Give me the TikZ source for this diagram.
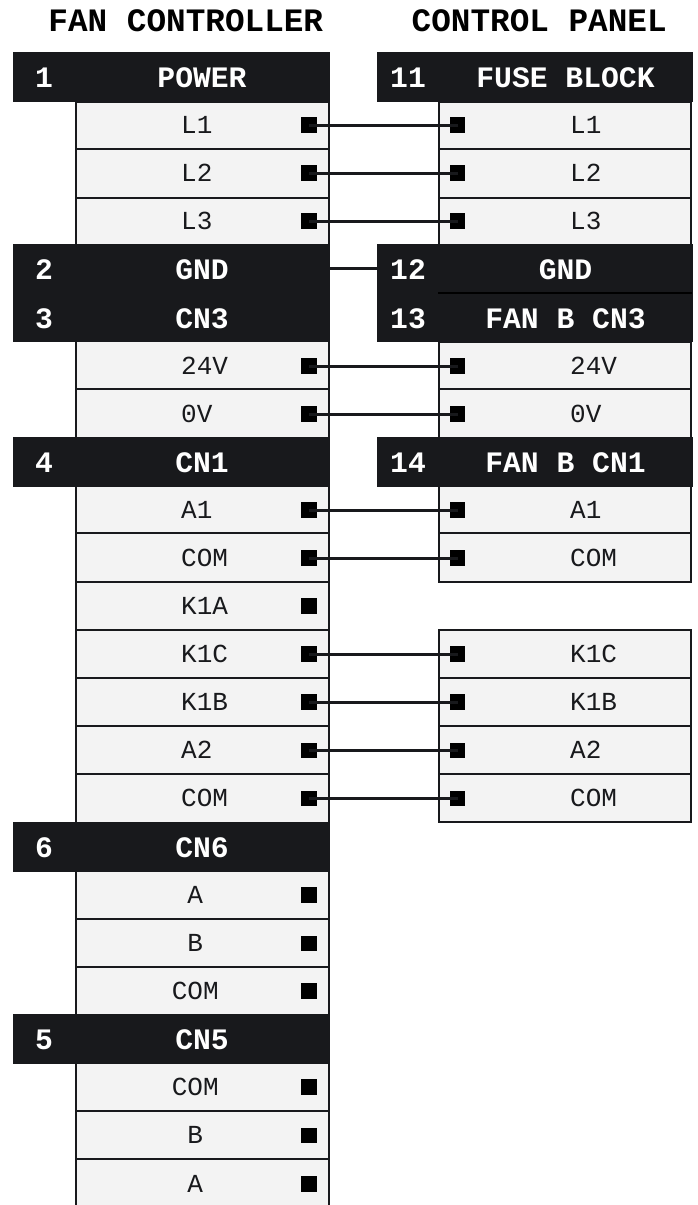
\documentclass[tikz,border=0pt]{standalone}
\usepackage{fontspec}
\setmonofont{Liberation Mono}
\definecolor{ink}{HTML}{18191C}
\definecolor{cellbg}{HTML}{F3F3F3}
\tikzset{
  x=1pt,y=-1pt,
  cellbox/.style={rectangle,draw=ink,fill=cellbg,line width=2pt,inner sep=0,outer sep=0},
  headbox/.style={rectangle,fill=ink,draw=none,inner sep=0,outer sep=0},
  termbox/.style={rectangle,fill=black,draw=none,minimum size=15.5pt,inner sep=0,outer sep=0},
  rowtext/.style={text=ink,font=\ttfamily\fontsize{26}{26}\selectfont,inner sep=0,anchor=base west},
  headtext/.style={text=white,font=\ttfamily\bfseries\fontsize{29.7}{30}\selectfont,inner sep=0,anchor=base},
  titletext/.style={text=black,font=\ttfamily\bfseries\fontsize{32.7}{33}\selectfont,inner sep=0,anchor=base},
  wire/.style={draw=ink,line width=3pt},
}
% name, x0, x1, top, bottom
\newcommand{\rowcell}[5]{%
  \pgfmathsetmacro{\cw}{#3-(#2)-2}\pgfmathsetmacro{\ch}{#5-(#4)}%
  \pgfmathsetmacro{\cx}{(#2+#3)/2}\pgfmathsetmacro{\cy}{(#4+#5)/2}%
  \node[cellbox,minimum width=\cw pt,minimum height=\ch pt] (#1) at (\cx,\cy) {};}
% name, text, text left x, centre y, terminal x
\newcommand{\rowinfo}[5]{%
  \pgfmathsetmacro{\by}{#4+8}%
  \node[rowtext] (#1txt) at (#3,\by) {#2};
  \node[termbox] (#1t) at (#5,#4) {};}
% name, x0, x1, top, bottom, number, number x, label, label x
\newcommand{\headcell}[9]{%
  \pgfmathsetmacro{\cw}{#3-(#2)}\pgfmathsetmacro{\ch}{#5-(#4)}%
  \pgfmathsetmacro{\cx}{(#2+#3)/2}\pgfmathsetmacro{\cy}{(#4+#5)/2}%
  \pgfmathsetmacro{\by}{\cy+10.6}%
  \node[headbox,minimum width=\cw pt,minimum height=\ch pt] (#1) at (\cx,\cy) {};
  \node[headtext] (#1n) at (#7,\by) {#6};
  \node[headtext] (#1l) at (#9,\by) {#8};}
\begin{document}
\begin{tikzpicture}
\useasboundingbox (0,0) rectangle (697,1205);
\clip (0,0) rectangle (697,1205);
\node[titletext] (tl) at (185.8,31) {FAN CONTROLLER};
\node[titletext] (tr) at (539.2,31) {CONTROL PANEL};
% left rows
\rowcell{al}{75}{329.5}{101.7}{149.4}
\rowcell{bl}{75}{329.5}{149.4}{197.5}
\rowcell{cl}{75}{329.5}{197.5}{250}
\rowcell{dl}{75}{329.5}{340}{389.3}
\rowcell{el}{75}{329.5}{389.3}{440}
\rowcell{fl}{75}{329.5}{484}{533.3}
\rowcell{gl}{75}{329.5}{533.3}{581.7}
\rowcell{hl}{75}{329.5}{581.7}{630}
\rowcell{il}{75}{329.5}{630}{678}
\rowcell{jl}{75}{329.5}{678}{726}
\rowcell{kl}{75}{329.5}{726}{774}
\rowcell{ll}{75}{329.5}{774}{825}
\rowcell{ml}{75}{329.5}{868}{918.7}
\rowcell{nl}{75}{329.5}{918.7}{966.7}
\rowcell{ol}{75}{329.5}{966.7}{1018}
\rowcell{pl}{75}{329.5}{1062}{1111}
\rowcell{ql}{75}{329.5}{1111}{1159.3}
\rowcell{rl}{75}{329.5}{1159.3}{1225}
% right rows
\rowcell{ar}{438.3}{692}{101.7}{149.4}
\rowcell{br}{438.3}{692}{149.4}{197.5}
\rowcell{cr}{438.3}{692}{197.5}{250}
\rowcell{dr}{438.3}{692}{341.5}{389.3}
\rowcell{er}{438.3}{692}{389.3}{440}
\rowcell{fr}{438.3}{692}{485.5}{533.3}
\rowcell{gr}{438.3}{692}{533.3}{582}
\rowcell{ir}{438.3}{692}{630}{678}
\rowcell{jr}{438.3}{692}{678}{726}
\rowcell{kr}{438.3}{692}{726}{774}
\rowcell{lr}{438.3}{692}{774}{822}
% left headers
\headcell{h1}{13}{329.5}{51.7}{101.7}{1}{44}{POWER}{202}
\headcell{h2}{13}{329.5}{244.3}{293.3}{2}{44}{GND}{202}
\headcell{h3}{13}{329.5}{293.3}{342.3}{3}{44}{CN3}{202}
\headcell{h4}{13}{329.5}{436.7}{486.7}{4}{44}{CN1}{202}
\headcell{h6}{13}{329.5}{821.7}{871.7}{6}{44}{CN6}{202}
\headcell{h5}{13}{329.5}{1014}{1064.3}{5}{44}{CN5}{202}
% right headers
\headcell{h11}{376.7}{692.7}{51.7}{101.7}{11}{408}{FUSE BLOCK}{565.5}
\headcell{h12}{376.7}{692.7}{244.3}{293.3}{12}{408}{GND}{565.5}
\headcell{h13}{376.7}{692.7}{293.3}{342.3}{13}{408}{FAN B CN3}{565.5}
\headcell{h14}{376.7}{692.7}{436.7}{486.7}{14}{408}{FAN B CN1}{565.5}
\coordinate (sepa) at (438.3,293.3);
\coordinate (sepb) at (691.5,293.3);
\draw[draw=black,line width=2pt] (sepa) -- (sepb);
% left labels and terminals
\rowinfo{al}{L1}{181}{125}{309}
\rowinfo{bl}{L2}{181}{173}{309}
\rowinfo{cl}{L3}{181}{221}{309}
\rowinfo{dl}{24V}{181}{366}{309}
\rowinfo{el}{0V}{181}{414}{309}
\rowinfo{fl}{A1}{181}{510}{309}
\rowinfo{gl}{COM}{181}{558}{309}
\rowinfo{hl}{K1A}{181}{606}{309}
\rowinfo{il}{K1C}{181}{654}{309}
\rowinfo{jl}{K1B}{181}{702}{309}
\rowinfo{kl}{A2}{181}{750.5}{309}
\rowinfo{ll}{COM}{181}{798.7}{309}
\rowinfo{ml}{A}{187.2}{895}{309}
\rowinfo{nl}{B}{187.2}{943.3}{309}
\rowinfo{ol}{COM}{171.6}{991}{309}
\rowinfo{pl}{COM}{171.6}{1087}{309}
\rowinfo{ql}{B}{187.2}{1135.7}{309}
\rowinfo{rl}{A}{187.2}{1184}{309}
% right labels and terminals
\rowinfo{ar}{L1}{570}{125}{457.7}
\rowinfo{br}{L2}{570}{173}{457.7}
\rowinfo{cr}{L3}{570}{221}{457.7}
\rowinfo{dr}{24V}{570}{366}{457.7}
\rowinfo{er}{0V}{570}{414}{457.7}
\rowinfo{fr}{A1}{570}{510}{457.7}
\rowinfo{gr}{COM}{570}{558}{457.7}
\rowinfo{ir}{K1C}{570}{654}{457.7}
\rowinfo{jr}{K1B}{570}{702}{457.7}
\rowinfo{kr}{A2}{570}{750.5}{457.7}
\rowinfo{lr}{COM}{570}{798.7}{457.7}
% wires
\draw[wire] (alt.center) -- (art.center);
\draw[wire] (blt.center) -- (brt.center);
\draw[wire] (clt.center) -- (crt.center);
\draw[wire] (dlt.center) -- (drt.center);
\draw[wire] (elt.center) -- (ert.center);
\draw[wire] (flt.center) -- (frt.center);
\draw[wire] (glt.center) -- (grt.center);
\draw[wire] (ilt.center) -- (irt.center);
\draw[wire] (jlt.center) -- (jrt.center);
\draw[wire] (klt.center) -- (krt.center);
\draw[wire] (llt.center) -- (lrt.center);
\draw[wire] (h2.east) -- (h12.west);
\end{tikzpicture}
\end{document}
